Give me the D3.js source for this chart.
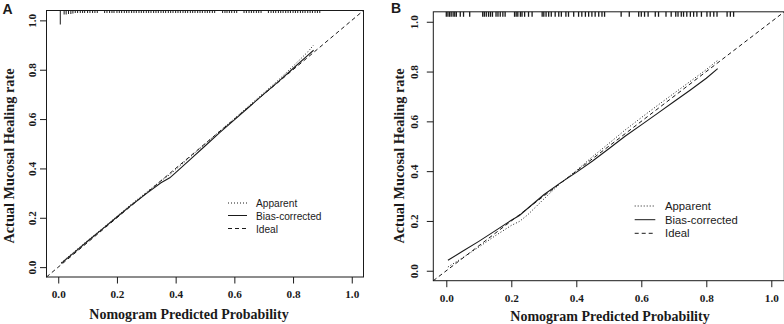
<!DOCTYPE html>
<html><head><meta charset="utf-8">
<script src="https://cdn.jsdelivr.net/npm/d3@7"></script>
<style>
body{margin:0;background:#fff;}
svg{display:block;}
</style></head>
<body><svg id="c" width="784" height="324"></svg>
<script>
// ---------- data ----------
const tickValues = [0, 0.2, 0.4, 0.6, 0.8, 1.0];
const tickLabels = ["0.0", "0.2", "0.4", "0.6", "0.8", "1.0"];
const legendLabels = ["Apparent", "Bias-corrected", "Ideal"];
const xTitle = "Nomogram Predicted Probability";
const yTitle = "Actual Mucosal Healing rate";

// Panel A
const predA     = [0.01, 0.05, 0.10, 0.15, 0.20, 0.25, 0.30, 0.35, 0.38, 0.40, 0.45, 0.50, 0.55, 0.60, 0.65, 0.70, 0.75, 0.80, 0.85, 0.87];
const apparentA = [0.018,0.058,0.108,0.156,0.206,0.256,0.303,0.350,0.375,0.395,0.447,0.499,0.551,0.602,0.654,0.706,0.758,0.814,0.872,0.900];
const biasA     = [0.015,0.055,0.105,0.154,0.203,0.252,0.298,0.342,0.362,0.383,0.437,0.491,0.545,0.597,0.649,0.701,0.752,0.805,0.858,0.879];
// rug (predicted value, relative frequency)
const rugA = [[0.007,14],[0.02,4],[0.027,4],[0.035,3.5],[0.043,3.5],[0.05,3],[0.058,2.5],[0.066,2.5],[0.075,2.5],[0.083,2.5],[0.09,2.5],[0.1,2.5],[0.108,2.5],[0.117,2.5],[0.125,2.5],[0.133,2.5],
 [0.158,2.5],[0.166,2.5],[0.175,2.5],[0.183,2.5],[0.19,2.5],[0.2,2.5],[0.208,2.5],[0.216,2.5],[0.225,2.5],[0.233,2.5],[0.241,2.5],[0.25,2.5],[0.258,2.5],[0.266,2.5],[0.275,2.5],[0.283,2.5],[0.291,2.5],
 [0.3,2.5],[0.308,2.5],[0.316,2.5],[0.325,2.5],[0.333,2.5],[0.341,2.5],[0.35,2.5],[0.358,2.5],[0.366,2.5],[0.375,2.5],[0.383,2.5],[0.391,2.5],[0.4,2.5],[0.408,2.5],[0.416,2.5],[0.425,2.5],[0.433,2.5],
 [0.441,2.5],[0.45,2.5],[0.458,2.5],[0.466,2.5],[0.475,2.5],[0.483,2.5],[0.491,2.5],[0.5,2.5],[0.508,2.5],[0.516,2.5],[0.525,2.5],[0.533,2.5],[0.56,2.5],[0.568,2.5],[0.575,2.5],[0.583,2.5],[0.591,2.5],
 [0.6,2.5],[0.608,2.5],[0.633,2.5],[0.641,2.5],[0.65,2.5],[0.658,2.5],[0.666,2.5],[0.675,2.5],[0.683,2.5],[0.691,2.5],[0.716,2.5],[0.725,2.5],[0.733,2.5],[0.741,2.5],[0.75,2.5],[0.758,2.5],[0.766,2.5],
 [0.775,2.5],[0.783,2.5],[0.791,2.5],[0.8,2.5],[0.808,2.5],[0.816,2.5],[0.825,2.5],[0.833,2.5],[0.841,2.5],[0.85,2.5],[0.858,2.5],[0.866,2.5],[0.875,2.5],[0.883,2.5],[0.891,2.5]];

// Panel B
const predB     = [0.005,0.05, 0.10, 0.15, 0.20, 0.225,0.25, 0.30, 0.35, 0.40, 0.45, 0.50, 0.55, 0.60, 0.65, 0.70, 0.75, 0.80, 0.835];
const apparentB = [0.015,0.052,0.095,0.140,0.182,0.198,0.224,0.288,0.350,0.402,0.458,0.511,0.565,0.615,0.664,0.712,0.760,0.808,0.845];
const biasB     = [0.042,0.078,0.118,0.160,0.203,0.222,0.250,0.305,0.352,0.395,0.441,0.490,0.540,0.586,0.632,0.679,0.725,0.773,0.812];
const rugB = [0, 0.005, 0.010, 0.015, 0.021, 0.026, 0.031, 0.043, 0.053, 0.072,
 0.112, 0.117, 0.123, 0.130, 0.136, 0.142, 0.153, 0.159, 0.166, 0.174, 0.181,
 0.210, 0.215, 0.220, 0.228, 0.233, 0.241, 0.253, 0.264,
 0.295, 0.300, 0.307, 0.315, 0.323, 0.335, 0.346, 0.354,
 0.368, 0.376, 0.392, 0.407, 0.417, 0.428, 0.438, 0.448, 0.458, 0.469, 0.479, 0.487,
 0.538, 0.563, 0.592, 0.600, 0.610, 0.621, 0.643, 0.653, 0.676, 0.692, 0.706, 0.713, 0.723, 0.730, 0.740,
 0.751, 0.761, 0.771, 0.785, 0.802, 0.812, 0.823, 0.833, 0.864, 0.874, 0.884];

// ---------- drawing ----------
const svg = d3.select("#c");
const INK = "#1a1a1a";
const domain = [-0.04, 1.04];

function panel(o) {
  const x = d3.scaleLinear().domain(domain).range([o.left, o.right]);
  const y = d3.scaleLinear().domain(domain).range([o.bottom, o.top]);
  const g = svg.append("g");

  // box
  g.append("rect").attr("x", o.left).attr("y", o.top)
    .attr("width", o.right - o.left).attr("height", o.bottom - o.top)
    .attr("fill", "none").attr("stroke", INK).attr("stroke-width", 1);

  // axes (ticks only)
  const ax = g.append("g").attr("transform", `translate(0,${o.bottom})`)
    .call(d3.axisBottom(x).tickValues(tickValues).tickSize(6.5).tickFormat((d, i) => tickLabels[i]));
  const ay = g.append("g").attr("transform", `translate(${o.left},0)`)
    .call(d3.axisLeft(y).tickValues(tickValues).tickSize(6.5).tickFormat((d, i) => tickLabels[i]));
  [ax, ay].forEach(a => {
    a.select(".domain").remove();
    a.selectAll("line").attr("stroke", INK);
    a.selectAll("text").attr("font-family", "'Liberation Serif', 'Times New Roman', serif")
      .attr("font-weight", "bold").attr("font-size", 11.2).attr("fill", INK);
  });
  ax.selectAll("text").attr("dy", null).attr("y", o.xLabBase - o.bottom);
  ay.selectAll("text").attr("dy", null).attr("x", null).attr("text-anchor", "middle")
    .attr("transform", function(d) { return `translate(${o.yLabBase - o.left},0) rotate(-90)`; });

  // titles
  g.append("text").attr("x", o.xTitleX).attr("y", o.xTitleBase).attr("text-anchor", "middle")
    .attr("font-family", "'Liberation Serif', 'Times New Roman', serif").attr("font-weight", "bold")
    .attr("font-size", 14).attr("fill", INK).text(xTitle);
  g.append("text").attr("transform", `translate(${o.yTitleBase},${o.yTitleY}) rotate(-90)`)
    .attr("text-anchor", "middle")
    .attr("font-family", "'Liberation Serif', 'Times New Roman', serif").attr("font-weight", "bold")
    .attr("font-size", 14.3).attr("fill", INK).text(yTitle);

  // panel letter
  g.append("text").attr("x", o.letterX).attr("y", o.letterY)
    .attr("font-family", "'Liberation Sans', Arial, sans-serif").attr("font-weight", "bold")
    .attr("font-size", 14).attr("fill", INK).text(o.letter);

  // rug
  g.selectAll(".rug").data(o.rug).enter().append("line")
    .attr("x1", d => x(d[0])).attr("x2", d => x(d[0]))
    .attr("y1", o.top).attr("y2", d => o.top + d[1])
    .attr("stroke", INK).attr("stroke-width", o.rugW);

  // ideal line
  g.append("line").attr("x1", x(domain[0])).attr("y1", y(domain[0]))
    .attr("x2", x(domain[1])).attr("y2", y(domain[1]))
    .attr("stroke", INK).attr("stroke-width", 1).attr("stroke-dasharray", "4,3");

  const line = d3.line().x(d => x(d[0])).y(d => y(d[1]));
  g.append("path").datum(o.pred.map((p, i) => [p, o.apparent[i]]))
    .attr("d", line).attr("fill", "none").attr("stroke", INK).attr("stroke-width", 1)
    .attr("stroke-dasharray", "1,2");
  g.append("path").datum(o.pred.map((p, i) => [p, o.bias[i]]))
    .attr("d", line).attr("fill", "none").attr("stroke", INK).attr("stroke-width", 1.1);

  // legend
  const dashes = ["1,2", null, "4,3"];
  legendLabels.forEach((lab, i) => {
    const cy = o.legY[i];
    g.append("line").attr("x1", o.legX1).attr("x2", o.legX2).attr("y1", cy).attr("y2", cy)
      .attr("stroke", INK).attr("stroke-width", 1).attr("stroke-dasharray", dashes[i]);
    g.append("text").attr("transform", `translate(${o.legTextX},${cy + o.legFont * 0.36}) scale(${o.legSx},1)`)
      .attr("font-family", "'Liberation Sans', Arial, sans-serif")
      .attr("font-size", o.legFont).attr("fill", INK).text(lab);
  });
}

panel({
  letter: "A", letterX: 2.5, letterY: 13.5,
  left: 46.5, right: 363.5, top: 10.5, bottom: 277,
  xLabBase: 297.6, yLabBase: 35.6,
  xTitleX: 189, xTitleBase: 319, yTitleBase: 13.8, yTitleY: 156,
  pred: predA, apparent: apparentA, bias: biasA,
  rug: rugA, rugW: 1,
  legX1: 228, legX2: 247, legTextX: 256, legY: [203, 215.5, 228.5], legFont: 11.3, legSx: 0.9
});
panel({
  letter: "B", letterX: 391, letterY: 12.5,
  left: 433.3, right: 784.3, top: 11.8, bottom: 280.7,
  xLabBase: 301.6, yLabBase: 417.7,
  xTitleX: 610, xTitleBase: 320.5, yTitleBase: 404, yTitleY: 156,
  pred: predB, apparent: apparentB, bias: biasB,
  rug: rugB.map(v => [v, 5]), rugW: 1.3,
  legX1: 634.7, legX2: 655.3, legTextX: 665, legY: [206, 219.7, 233.3], legFont: 11.3, legSx: 1
});
</script></body></html>
